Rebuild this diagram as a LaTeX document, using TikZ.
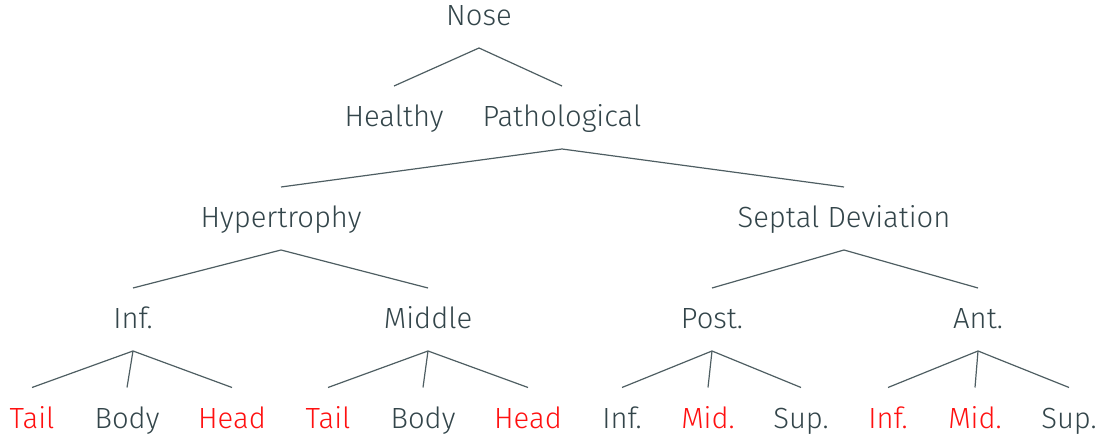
\documentclass[tikz,border=0pt]{standalone}
\usepackage{fontspec}
\setmainfont{Fira Sans Light}
\definecolor{txt}{HTML}{33454A}
\definecolor{edge}{HTML}{4E5E62}
\definecolor{alert}{HTML}{FF1010}
\begin{document}
\begin{tikzpicture}[x=1pt,y=1pt,
  lbl/.style={anchor=base,inner sep=0pt,outer sep=0pt,text height=41pt,text depth=22pt,font=\fontsize{29.2}{31}\selectfont,text=txt},
  leaf/.style={lbl,text depth=6pt},
  hot/.style={leaf,text=alert},
  br/.style={draw=edge,line width=1.2pt}]
\useasboundingbox (0,0) rectangle (1108,435);
% level 0
\node[lbl] (nose) at (479,409) {Nose};
% level 1
\node[lbl] (healthy) at (394,308) {Healthy};
\node[lbl] (patho) at (562,308) {Pathological};
% level 2
\node[lbl] (hyper) at (281,207) {Hypertrophy};
\node[lbl] (septal) at (844,207) {Septal Deviation};
% level 3
\node[lbl] (inf) at (133,106) {Inf.};
\node[lbl] (mid) at (428,106) {Middle};
\node[lbl] (post) at (712,106) {Post.};
\node[lbl] (ant) at (978,106) {Ant.};
% leaves
\node[hot] (t1) at (32,6.5) {Tail};
\node[leaf] (b1) at (127,6.5) {Body};
\node[hot] (h1) at (232,6.5) {Head};
\node[hot] (t2) at (328,6.5) {Tail};
\node[leaf] (b2) at (423,6.5) {Body};
\node[hot] (h2) at (528,6.5) {Head};
\node[leaf] (i1) at (622,6.5) {Inf.};
\node[hot] (m1) at (708,6.5) {Mid.};
\node[leaf] (s1) at (801,6.5) {Sup.};
\node[hot] (i2) at (888,6.5) {Inf.};
\node[hot] (m2) at (975,6.5) {Mid.};
\node[leaf] (s2) at (1069,6.5) {Sup.};
% edges
\draw[br] (healthy.north) -- (nose.south) -- (patho.north);
\draw[br] (hyper.north) -- (patho.south) -- (septal.north);
\draw[br] (inf.north) -- (hyper.south) -- (mid.north);
\draw[br] (post.north) -- (septal.south) -- (ant.north);
\draw[br] (t1.north) -- (inf.south) -- (h1.north);
\draw[br] (inf.south) -- (b1.north);
\draw[br] (t2.north) -- (mid.south) -- (h2.north);
\draw[br] (mid.south) -- (b2.north);
\draw[br] (i1.north) -- (post.south) -- (s1.north);
\draw[br] (post.south) -- (m1.north);
\draw[br] (i2.north) -- (ant.south) -- (s2.north);
\draw[br] (ant.south) -- (m2.north);
\end{tikzpicture}
\end{document}
